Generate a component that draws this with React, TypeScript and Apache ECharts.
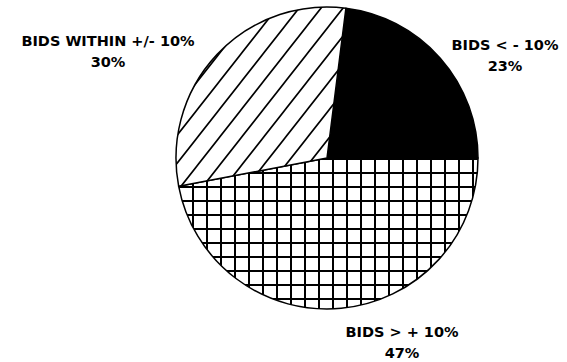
import React, { useEffect, useRef } from "react";
import * as echarts from "echarts";

const CATEGORIES = ["BIDS < - 10%", "BIDS > + 10%", "BIDS WITHIN +/- 10%"];
const SHARES = [23, 47, 30];
// label anchor points (layout, px)
const LABEL_POS: [number, number][] = [
  [505, 55],
  [402, 342],
  [108, 51],
];

function makeGrid(): HTMLCanvasElement {
  const s = 14;
  const c = document.createElement("canvas");
  c.width = s;
  c.height = s;
  const g = c.getContext("2d")!;
  g.fillStyle = "#fff";
  g.fillRect(0, 0, s, s);
  g.fillStyle = "#000";
  g.fillRect(10, 0, 2, s);
  g.fillRect(0, 4, s, 2);
  return c;
}

function makeHatch(): HTMLCanvasElement {
  const w = 22;
  const h = 28;
  const off = 19.4;
  const c = document.createElement("canvas");
  c.width = w;
  c.height = h;
  const g = c.getContext("2d")!;
  g.fillStyle = "#fff";
  g.fillRect(0, 0, w, h);
  g.strokeStyle = "#000";
  g.lineWidth = 1.7;
  g.beginPath();
  for (let k = -2; k <= 1; k++) {
    const y0 = -3;
    const y1 = h + 3;
    g.moveTo(off + w * k - (y0 * w) / h, y0);
    g.lineTo(off + w * k - (y1 * w) / h, y1);
  }
  g.stroke();
  return c;
}

export default function App() {
  const ref = useRef<HTMLDivElement>(null);
  useEffect(() => {
    if (!ref.current) return;
    const chart = echarts.init(ref.current, undefined, { renderer: "svg" });
    const grid = makeGrid();
    const hatch = makeHatch();
    const fills: any[] = [
      "#000",
      { image: grid, repeat: "repeat", imageWidth: 14, imageHeight: 14 },
      { image: hatch, repeat: "repeat", imageWidth: 22, imageHeight: 28 },
    ];
    chart.setOption({
      animation: false,
      backgroundColor: "#fff",
      series: [
        {
          type: "pie",
          center: [327, 158],
          radius: 151,
          startAngle: 82.8,
          clockwise: true,
          avoidLabelOverlap: false,
          silent: true,
          data: CATEGORIES.map((name, i) => ({
            name,
            value: SHARES[i],
            itemStyle: { color: fills[i] },
          })),
          itemStyle: { borderColor: "#000", borderWidth: 1.5 },
          label: {
            show: true,
            position: "outside",
            formatter: (p: any) => `${p.name}\n${p.value}%`,
            fontFamily: "DejaVu Sans",
            fontWeight: "bold",
            fontSize: 14.5,
            lineHeight: 21,
            color: "#000",
            align: "center",
          },
          labelLine: { show: false },
          labelLayout: (p: any) => ({
            x: LABEL_POS[p.dataIndex][0],
            y: LABEL_POS[p.dataIndex][1],
            align: "center",
            verticalAlign: "middle",
          }),
        },
      ],
    });
    return () => chart.dispose();
  }, []);
  return (
    <div
      ref={ref}
      style={{ position: "fixed", left: 0, top: 0, width: 567, height: 362 }}
    />
  );
}
